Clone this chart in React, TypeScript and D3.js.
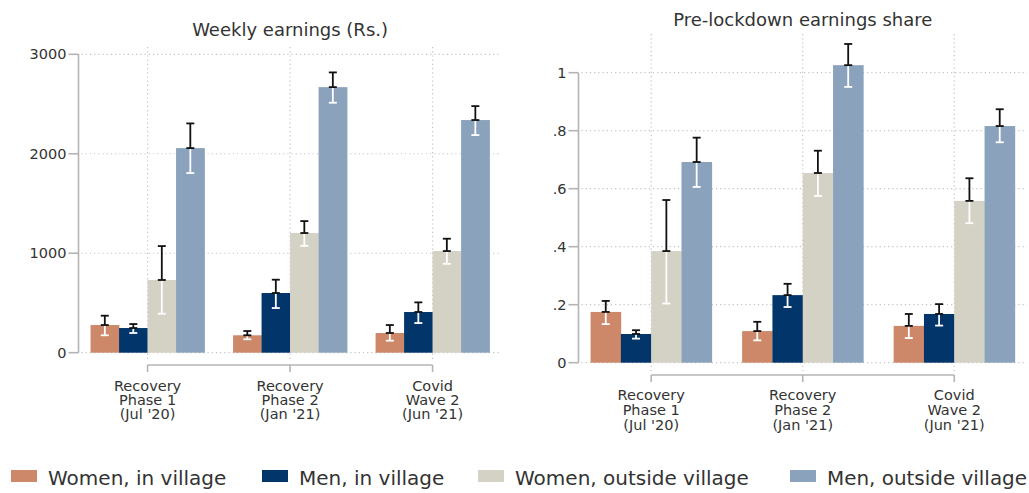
import React, { useEffect, useRef } from 'react';
import * as d3 from 'd3';

const WIDTH = 1029;
const HEIGHT = 493;

const GROUPS = ['Women, in village', 'Men, in village', 'Women, outside village', 'Men, outside village'];
const COLORS = ['#cd8769', '#02356a', '#d4d1c5', '#8ba2bd'];
const PERIOD_LABELS = [
  ['Recovery', 'Phase 1', "(Jul '20)"],
  ['Recovery', 'Phase 2', "(Jan '21)"],
  ['Covid', 'Wave 2', "(Jun '21)"],
];

// weekly earnings, rows = period, cols = group
const EARN_MEAN = [
  [278, 248, 731, 2057],
  [175, 600, 1203, 2670],
  [198, 409, 1022, 2339],
];
const EARN_LO = [
  [175, 198, 392, 1806],
  [135, 449, 1075, 2513],
  [121, 298, 894, 2188],
];
const EARN_HI = [
  [372, 288, 1072, 2305],
  [218, 734, 1323, 2818],
  [278, 506, 1146, 2479],
];
const EARN_TICKS = [0, 1000, 2000, 3000];

// share of pre-lockdown earnings
const SHARE_MEAN = [
  [0.175, 0.099, 0.385, 0.692],
  [0.109, 0.233, 0.654, 1.026],
  [0.127, 0.168, 0.558, 0.816],
];
const SHARE_LO = [
  [0.133, 0.083, 0.204, 0.606],
  [0.077, 0.192, 0.575, 0.951],
  [0.085, 0.128, 0.481, 0.760],
];
const SHARE_HI = [
  [0.213, 0.112, 0.561, 0.776],
  [0.141, 0.272, 0.731, 1.099],
  [0.168, 0.202, 0.636, 0.874],
];
const SHARE_TICKS = [0, 0.2, 0.4, 0.6, 0.8, 1];

const FONT = "'DejaVu Sans', sans-serif";
const TEXT = '#333333';
const GRID = '#c4c4c4';
const AXIS = '#b4b4b4';

interface PanelSpec {
  title: string;
  titleY: number;
  mean: number[][];
  lo: number[][];
  hi: number[][];
  ticks: number[];
  fmt: (v: number) => string;
  yMax: number;
  x0: number;
  x1: number;
  yTop: number;
  yBottom: number;
  axisX: number;
  gridTop: number;
  bracketY: number;
  labelY: number;
  labelStep: number;
}

const drawPanel = (svg: d3.Selection<SVGSVGElement, unknown, null, undefined>, p: PanelSpec) => {
  const g = svg.append('g');
  const xScale = d3.scaleLinear().domain([0.54, 3.48]).range([p.x0, p.x1]);
  const yScale = d3.scaleLinear().domain([0, p.yMax]).range([p.yBottom, p.yTop]);
  const barW = xScale(0.2) - xScale(0);
  const periods = [1, 2, 3];

  // grid
  p.ticks.forEach((t) => {
    g.append('line')
      .attr('x1', p.axisX + 3)
      .attr('x2', p.x1)
      .attr('y1', yScale(t))
      .attr('y2', yScale(t))
      .attr('stroke', GRID)
      .attr('stroke-width', 1.2)
      .attr('stroke-dasharray', '1.2,3');
  });
  periods.forEach((c) => {
    g.append('line')
      .attr('x1', xScale(c))
      .attr('x2', xScale(c))
      .attr('y1', p.gridTop)
      .attr('y2', p.bracketY - 4)
      .attr('stroke', GRID)
      .attr('stroke-width', 1.2)
      .attr('stroke-dasharray', '1.2,3');
  });

  // bars
  p.mean.forEach((row, i) => {
    row.forEach((v, j) => {
      const left = xScale(periods[i] + (j - 2) * 0.2);
      g.append('rect')
        .attr('x', left)
        .attr('y', yScale(v))
        .attr('width', barW + 0.3)
        .attr('height', yScale(0) - yScale(v))
        .attr('fill', COLORS[j]);
    });
  });

  // error bars: black above bar top, white below
  p.mean.forEach((row, i) => {
    row.forEach((v, j) => {
      const cx = xScale(periods[i] + (j - 2) * 0.2 + 0.1);
      const yv = yScale(v);
      const yh = yScale(p.hi[i][j]);
      const yl = yScale(p.lo[i][j]);
      g.append('line')
        .attr('x1', cx).attr('x2', cx).attr('y1', yv).attr('y2', yl)
        .attr('stroke', '#ffffff').attr('stroke-width', 1.8);
      g.append('line')
        .attr('x1', cx - 4).attr('x2', cx + 4).attr('y1', yl).attr('y2', yl)
        .attr('stroke', '#ffffff').attr('stroke-width', 1.8);
      g.append('line')
        .attr('x1', cx).attr('x2', cx).attr('y1', yh).attr('y2', yv)
        .attr('stroke', '#111111').attr('stroke-width', 1.8);
      [yh, yv].forEach((yy) => {
        g.append('line')
          .attr('x1', cx - 4).attr('x2', cx + 4).attr('y1', yy).attr('y2', yy)
          .attr('stroke', '#111111').attr('stroke-width', 1.8);
      });
    });
  });

  // y axis
  g.append('line')
    .attr('x1', p.axisX).attr('x2', p.axisX)
    .attr('y1', yScale(p.ticks[p.ticks.length - 1])).attr('y2', yScale(0))
    .attr('stroke', AXIS).attr('stroke-width', 1.6);
  p.ticks.forEach((t) => {
    g.append('line')
      .attr('x1', p.axisX - 10).attr('x2', p.axisX)
      .attr('y1', yScale(t)).attr('y2', yScale(t))
      .attr('stroke', AXIS).attr('stroke-width', 1.6);
    g.append('text')
      .attr('x', p.axisX - 12)
      .attr('y', yScale(t))
      .attr('dy', '0.35em')
      .attr('text-anchor', 'end')
      .attr('font-family', FONT)
      .attr('font-size', '14.5px')
      .attr('fill', TEXT)
      .text(p.fmt(t));
  });

  // category bracket
  g.append('line')
    .attr('x1', xScale(1)).attr('x2', xScale(3))
    .attr('y1', p.bracketY).attr('y2', p.bracketY)
    .attr('stroke', AXIS).attr('stroke-width', 1.6);
  periods.forEach((c, i) => {
    g.append('line')
      .attr('x1', xScale(c)).attr('x2', xScale(c))
      .attr('y1', p.bracketY).attr('y2', p.bracketY + 7)
      .attr('stroke', AXIS).attr('stroke-width', 1.6);
    PERIOD_LABELS[i].forEach((s, k) => {
      g.append('text')
        .attr('x', xScale(c))
        .attr('y', p.labelY + k * p.labelStep)
        .attr('dy', '0.35em')
        .attr('text-anchor', 'middle')
        .attr('font-family', FONT)
        .attr('font-size', '14.5px')
        .attr('fill', TEXT)
        .text(s);
    });
  });

  g.append('text')
    .attr('x', xScale(2))
    .attr('y', p.titleY)
    .attr('dy', '0.35em')
    .attr('text-anchor', 'middle')
    .attr('font-family', FONT)
    .attr('font-size', '18px')
    .attr('fill', TEXT)
    .text(p.title);
};

const LEGEND_X = [11, 262, 478, 790];

export default function App() {
  const svgRef = useRef<SVGSVGElement>(null);

  useEffect(() => {
    if (!svgRef.current) return;
    const svg = d3.select(svgRef.current);
    svg.selectAll('*').remove();

    drawPanel(svg, {
      title: 'Weekly earnings (Rs.)',
      titleY: 30,
      mean: EARN_MEAN,
      lo: EARN_LO,
      hi: EARN_HI,
      ticks: EARN_TICKS,
      fmt: (v) => String(v),
      yMax: 3000,
      x0: 82,
      x1: 501,
      yTop: 54.3,
      yBottom: 352.7,
      axisX: 78.5,
      gridTop: 47,
      bracketY: 365,
      labelY: 386,
      labelStep: 14,
    });

    drawPanel(svg, {
      title: 'Pre-lockdown earnings share',
      titleY: 20,
      mean: SHARE_MEAN,
      lo: SHARE_LO,
      hi: SHARE_HI,
      ticks: SHARE_TICKS,
      fmt: (v) => (v === 0 ? '0' : v === 1 ? '1' : d3.format('.1f')(v).replace(/^0/, '')),
      yMax: 1,
      x0: 581.5,
      x1: 1027,
      yTop: 72.7,
      yBottom: 362.7,
      axisX: 578.5,
      gridTop: 34,
      bracketY: 375,
      labelY: 395,
      labelStep: 15,
    });

    const legend = svg.append('g').attr('class', 'legend');
    GROUPS.forEach((name, i) => {
      const tx = LEGEND_X[i] + 37;
      const maxW = (i < GROUPS.length - 1 ? LEGEND_X[i + 1] - 10 : WIDTH - 2) - tx;
      legend.append('rect')
        .attr('x', LEGEND_X[i])
        .attr('y', 470)
        .attr('width', 26)
        .attr('height', 12)
        .attr('fill', COLORS[i]);
      const t = legend.append('text')
        .attr('x', tx)
        .attr('y', 478)
        .attr('dy', '0.35em')
        .attr('font-family', FONT)
        .attr('font-size', '20px')
        .attr('fill', TEXT)
        .text(name);
      const node = t.node();
      if (node && node.getComputedTextLength() > maxW) {
        t.attr('textLength', maxW).attr('lengthAdjust', 'spacingAndGlyphs');
      }
    });
  }, []);

  return (
    <div style={{ position: 'absolute', left: 0, top: 0, width: WIDTH, height: HEIGHT, background: '#fff' }}>
      <svg ref={svgRef} width={WIDTH} height={HEIGHT} style={{ display: 'block' }} />
    </div>
  );
}
